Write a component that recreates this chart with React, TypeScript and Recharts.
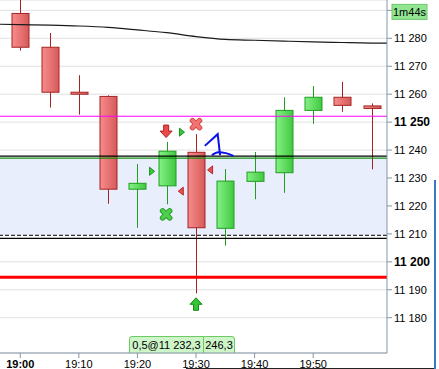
import React from 'react';
import {
  ComposedChart,
  Bar,
  Line,
  Scatter,
  XAxis,
  YAxis,
  CartesianGrid,
  ReferenceLine,
  ReferenceArea,
} from 'recharts';

// 5-minute candles, time in minutes after 19:00
const times = [0, 5, 10, 15, 20, 25, 30, 35, 40, 45, 50, 55, 60];
const opens = [11288.9, 11276.8, 11260.7, 11259.2, 11226.0, 11227.2, 11239.2, 11212.0, 11228.8, 11231.9, 11254.2, 11258.9, 11255.8];
const highs = [11297.0, 11281.9, 11266.8, 11259.6, 11235.0, 11242.9, 11245.7, 11233.2, 11239.3, 11258.9, 11262.9, 11264.4, 11256.7];
const lows = [11275.6, 11255.2, 11252.7, 11220.8, 11212.2, 11220.6, 11188.7, 11205.8, 11222.4, 11224.7, 11249.4, 11253.7, 11233.1];
const closes = [11276.8, 11260.7, 11260.0, 11226.0, 11228.1, 11239.6, 11212.2, 11228.9, 11232.1, 11254.2, 11258.9, 11256.0, 11254.9];

// moving average
const maTimes = [-5, 0, 5, 10, 15, 20, 25, 30, 35, 40, 45, 50, 55, 60, 65];
const maValues = [11285.1, 11284.9, 11284.7, 11284.4, 11283.9, 11283.0, 11282.0, 11280.6, 11279.6, 11279.3, 11279.0, 11278.7, 11278.5, 11278.3, 11278.2];

// horizontal levels
const magentaLevel = 11252.1;
const blackUpper = 11237.8;
const greenLevel = 11237.1;
const dashedLevel = 11209.5;
const blackLower = 11208.4;
const redLevel = 11194.5;

// signal markers [time, price]
const redDownArrows = [[24.9, 11246.8]];
const greenUpArrows = [[30.0, 11184.8]];
const redCrosses = [[30.0, 11249.3]];
const greenCrosses = [[24.9, 11217.0]];
const greenTriangles = [[27.6, 11246.4], [22.5, 11232.4]];
const redTriangles = [[32.4, 11232.9], [27.4, 11225.3]];

// hand-drawn blue strokes [time, price]
const blueStrokeA = [[31.5, 11241.5], [33.7, 11245.7], [34.1, 11238.2]];
const blueStrokeB = [[32.7, 11238.2], [33.8, 11239.2], [35.1, 11238.9], [36.4, 11237.9]];

const yTicks = [11180, 11190, 11200, 11210, 11220, 11230, 11240, 11250, 11260, 11270, 11280, 11290];
const xTicks = [0, 10, 20, 30, 40, 50];
const countdown = '1m44s';
const tradeLabel = '0,5@11 232,3';
const tradeLabel2 = '246,3';

const candles = times.map((t, i) => ({
  t,
  open: opens[i],
  high: highs[i],
  low: lows[i],
  close: closes[i],
}));
const ma = maTimes.map((t, i) => ({ t, v: maValues[i] }));
const pts = (arr: number[][]) => arr.map(([t, v]) => ({ t, v }));

const FONT = 'Liberation Sans, Arial, sans-serif';
const AXIS = '#8596a6';

const fmtPrice = (v: number) =>
  `${Math.floor(v / 1000)} ${String(Math.round(v % 1000)).padStart(3, '0')}`;

const Candle = (props: any) => {
  const { x, y, width, height, index } = props;
  const d: any = candles[index] ?? props.payload;
  if (!d || height == null) return null;
  const { open, close, high, low } = d;
  const up = close >= open;
  // pixel per price unit, taken from the bar's high-low extent
  const k = height / (high - low);
  const yOf = (v: number) => y + (high - v) * k;
  const cx = Math.round(x + width / 2) + 0.5;
  const top = Math.min(yOf(open), yOf(close));
  const bot = Math.max(yOf(open), yOf(close));
  const line = up ? '#1f9e1f' : '#a42424';
  return (
    <g>
      <line x1={cx} x2={cx} y1={y} y2={y + height} stroke={line} strokeWidth={1} />
      <rect
        x={cx - 8.5}
        y={top}
        width={17}
        height={Math.max(bot - top, 2)}
        fill={up ? 'url(#gUp) #5cd85c' : 'url(#gDown) #e87272'}
        stroke={line}
        strokeWidth={1}
      />
    </g>
  );
};

const Arrow = (dir: 'up' | 'down', fill: string, stroke: string) => (p: any) => {
  const { cx, cy } = p;
  const s = dir === 'down' ? 1 : -1;
  const d = `M${cx - 2.5},${cy - 6 * s} L${cx + 2.5},${cy - 6 * s} L${cx + 2.5},${cy} L${cx + 6},${cy} L${cx},${cy + 6.5 * s} L${cx - 6},${cy} L${cx - 2.5},${cy} Z`;
  return <path d={d} fill={fill} stroke={stroke} strokeWidth={1} />;
};

const Cross = (fill: string, stroke: string) => (p: any) => {
  const { cx, cy } = p;
  const h = 3.5;
  return (
    <g strokeLinecap="round">
      <line x1={cx - h} y1={cy - h} x2={cx + h} y2={cy + h} stroke={stroke} strokeWidth={5.5} />
      <line x1={cx - h} y1={cy + h} x2={cx + h} y2={cy - h} stroke={stroke} strokeWidth={5.5} />
      <line x1={cx - h} y1={cy - h} x2={cx + h} y2={cy + h} stroke={fill} strokeWidth={3.5} />
      <line x1={cx - h} y1={cy + h} x2={cx + h} y2={cy - h} stroke={fill} strokeWidth={3.5} />
    </g>
  );
};

const Tri = (dir: 'left' | 'right', fill: string, stroke: string) => (p: any) => {
  const { cx, cy } = p;
  const s = dir === 'right' ? 1 : -1;
  return (
    <path
      d={`M${cx - 2.5 * s},${cy - 4} L${cx + 2.5 * s},${cy} L${cx - 2.5 * s},${cy + 4} Z`}
      fill={fill}
      stroke={stroke}
      strokeWidth={1}
    />
  );
};

const YTick = (props: any) => {
  const { x, y, payload } = props;
  const v = payload.value;
  if (v === yTicks[yTicks.length - 1]) {
    return (
      <g>
        <rect x={x - 2} y={y - 6} width={35} height={15} fill="#92e692" stroke="#6cc86c" />
        <text x={x + 15.5} y={y + 5.5} textAnchor="middle" fontSize={11} fontFamily={FONT} fill="#000">
          {countdown}
        </text>
      </g>
    );
  }
  const bold = v % 50 === 0;
  return (
    <text
      x={x}
      y={y + 4}
      textAnchor="start"
      fontSize={bold ? 12 : 11}
      fontWeight={bold ? 'bold' : 'normal'}
      fontFamily={FONT}
      fill="#000"
    >
      {fmtPrice(v)}
    </text>
  );
};

const XTick = (props: any) => {
  const { x, y, payload } = props;
  const t = payload.value;
  return (
    <text
      x={x}
      y={y + 7.5}
      textAnchor="middle"
      fontSize={11}
      fontWeight={t === 0 ? 'bold' : 'normal'}
      fontFamily={FONT}
      fill="#000"
    >
      {`19:${String(t).padStart(2, '0')}`}
    </text>
  );
};

export default function App() {
  return (
    <div style={{ position: 'absolute', left: 0, top: 0, width: 439, height: 369, background: '#fff' }}>
      <ComposedChart
        width={439}
        height={369}
        data={candles}
        margin={{ top: 0, right: 0, left: 0, bottom: 0 }}
      >
        <defs>
          <linearGradient id="gDown" x1="0" y1="0" x2="1" y2="0">
            <stop offset="0%" stopColor="#f78c8c" />
            <stop offset="100%" stopColor="#d65a5a" />
          </linearGradient>
          <linearGradient id="gUp" x1="0" y1="0" x2="1" y2="0">
            <stop offset="0%" stopColor="#84f184" />
            <stop offset="100%" stopColor="#42c842" />
          </linearGradient>
        </defs>
        <ReferenceArea y1={dashedLevel} y2={greenLevel} fill="#e8eefc" fillOpacity={1} stroke="none" />
        <CartesianGrid horizontal vertical={false} stroke="#e0e0e0" />
        <XAxis
          dataKey="t"
          type="number"
          domain={[-3.46, 62.6]}
          allowDataOverflow
          ticks={xTicks}
          height={16}
          tickSize={5}
          stroke={AXIS}
          tick={<XTick />}
        />
        <YAxis
          orientation="right"
          type="number"
          domain={[11167.37, 11293.71]}
          allowDataOverflow
          ticks={yTicks}
          width={52}
          tickSize={5}
          stroke={AXIS}
          tick={<YTick />}
        />
        <ReferenceLine y={magentaLevel} stroke="#ff00ff" strokeWidth={1.2} />
        <ReferenceLine y={blackUpper} stroke="#000" strokeWidth={1.3} />
        <ReferenceLine y={greenLevel} stroke="#109010" strokeWidth={1.2} />
        <ReferenceLine y={dashedLevel} stroke="#000" strokeWidth={1} strokeDasharray="4 2" />
        <ReferenceLine y={blackLower} stroke="#000" strokeWidth={1.3} />
        <ReferenceLine y={redLevel} stroke="#ff0000" strokeWidth={3} />
        <Line
          data={ma}
          dataKey="v"
          type="monotone"
          stroke="#1a1a1a"
          strokeWidth={1.2}
          dot={false}
          isAnimationActive={false}
        />
        <Bar
          dataKey={(d: any) => [d.low, d.high]}
          barSize={17}
          shape={(p: any) => <Candle {...p} />}
          isAnimationActive={false}
        />
        <Line data={pts(blueStrokeA)} dataKey="v" type="linear" stroke="#0a14e6" strokeWidth={2} dot={false} isAnimationActive={false} />
        <Line data={pts(blueStrokeB)} dataKey="v" type="monotone" stroke="#0a14e6" strokeWidth={2} dot={false} isAnimationActive={false} />
        <Scatter data={pts(redDownArrows)} dataKey="v" shape={Arrow('down', '#ec4a4a', '#b42020')} isAnimationActive={false} />
        <Scatter data={pts(greenUpArrows)} dataKey="v" shape={Arrow('up', '#34c634', '#138a13')} isAnimationActive={false} />
        <Scatter data={pts(redCrosses)} dataKey="v" shape={Cross('#f07474', '#d84848')} isAnimationActive={false} />
        <Scatter data={pts(greenCrosses)} dataKey="v" shape={Cross('#4ed04e', '#229a22')} isAnimationActive={false} />
        <Scatter data={pts(greenTriangles)} dataKey="v" shape={Tri('right', '#3cc83c', '#15921a')} isAnimationActive={false} />
        <Scatter data={pts(redTriangles)} dataKey="v" shape={Tri('left', '#e85050', '#b82828')} isAnimationActive={false} />
        <g>
          <path d="M129.5,353 L129.5,339 Q129.5,336.5 132,336.5 L203.5,336.5 L203.5,353" fill="#cdf5c8" stroke="#6ccb66" />
          <path d="M203.5,353 L203.5,336.5 L232,336.5 Q234.5,336.5 234.5,339 L234.5,353" fill="#cdf5c8" stroke="#6ccb66" />
          <text x={166.5} y={349} textAnchor="middle" fontSize={11} fontFamily={FONT} fill="#000">
            {tradeLabel}
          </text>
          <text x={219} y={349} textAnchor="middle" fontSize={11} fontFamily={FONT} fill="#000">
            {tradeLabel2}
          </text>
        </g>
      </ComposedChart>
      <div style={{ position: 'absolute', left: 186, top: 368, width: 249, height: 1, background: '#222' }} />
      <div style={{ position: 'absolute', left: 434, top: 180, width: 2, height: 189, background: '#3d78c8' }} />
    </div>
  );
}
